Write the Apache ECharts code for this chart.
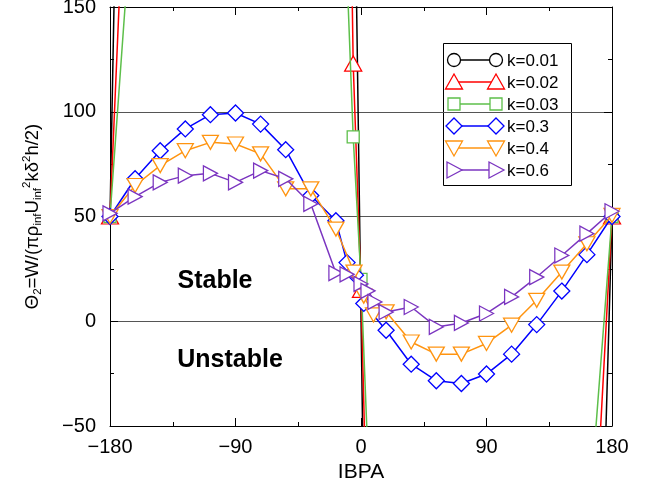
<!DOCTYPE html>
<html><head><meta charset="utf-8">
<script src="https://cdn.jsdelivr.net/npm/echarts@6/dist/echarts.min.js"></script>
<style>html,body{margin:0;padding:0;background:#fff}#c{width:652px;height:488px}</style>
</head><body><div id="c"></div>
<script>
// ---- data ----
const seriesNames = ['k=0.01','k=0.02','k=0.03','k=0.3','k=0.4','k=0.6'];
const xTickLabels = [-180,-90,0,90,180];
const yTickLabels = [-50,0,50,100,150];

const ibpaSmallK = [-180,-162,-144,-126,-108,-90,-72,-54,-36,-18,-12,-5.6,0,6,12,18,36,54,72,90,108,126,144,162,180];
const k001 = [50,680,1250,1700,2000,2100,2050,1850,1450,900,500,266,null,-280,-600,-900,-1500,-1950,-2150,-2100,-1900,-1500,-1000,-369,50];
const k002 = [50,329,600,850,1000,1050,1000,900,700,520,400,123,15,-147,-290,-420,-700,-950,-1080,-1050,-950,-750,-500,-172,50];
const k003 = [50,217,400,560,670,700,670,600,470,330,200,88,20,-82,-180,-280,-470,-630,-720,-700,-630,-500,-330,-107,50];

const ibpaK03 = [-180,-162,-144,-126,-108,-90,-72,-54,-36,-18,-10,-4,2,18,36,54,72,90,108,126,144,162,180];
const k03 = [50,68,81.4,91.8,98.6,99.4,94.1,81.9,60,48,28,22,8.5,-4.3,-20.5,-28.4,-29.7,-25.2,-15.7,-1.6,14.4,31.8,50];

const ibpaK04 = [-180,-162,-144,-126,-108,-90,-72,-54,-36,-18,-5,2,9,18,36,54,72,90,108,126,144,162,180];
const k04 = [50,64.8,74.3,81.4,85.4,84.6,79.9,63.2,63.2,44,23.5,12,3,4.5,-9.9,-15.7,-15.7,-10.6,-1.9,10,23.5,37,50.5];

const ibpaK06 = [-180,-162,-144,-126,-108,-90,-72,-54,-36,-18,-10,0,5,10,18,36,54,72,90,108,126,144,162,180];
const k06 = [51.5,59.5,66.3,69.5,70.6,66.3,71.9,68,56,23,22.4,17.8,14.5,9.2,4.4,6.8,-2.7,-0.8,3.7,11.6,21.1,31.4,41.8,52.5];

// ---- styling ----
const FONT = 'Liberation Sans, Arial, Helvetica, sans-serif';
const colors = ['#000000','#ff0000','#5dbf4a','#0000ff','#ff9410','#7b35c0'];
const symbols = ['circle','triangle','rect','diamond','triangle','triangle'];
const symSizes = [13,[17,15],12,16,[16,14],[15,14]];
const symRot = [0,0,0,0,180,-90];
const legendKinds = ['circle','up','square','diamond','down','right'];

const xs = [ibpaSmallK,ibpaSmallK,ibpaSmallK,ibpaK03,ibpaK04,ibpaK06];
const ys = [k001,k002,k003,k03,k04,k06];

const series = seriesNames.map((name,i)=>({
  name, type:'line',
  data: xs[i].map((x,j)=>[x, ys[i][j]]),
  symbol: symbols[i], symbolSize: symSizes[i], symbolRotate: symRot[i],
  showAllSymbol: true, connectNulls: true, clip: true,
  lineStyle:{color:colors[i], width:1.5},
  itemStyle:{color:'#fff', borderColor:colors[i], borderWidth:1.3},
  emphasis:{disabled:true},
  z: 2 + i
}));

function legendMarker(kind, cx, cy, color){
  const st = {fill:'#fff', stroke:color, lineWidth:1.3};
  if (kind==='circle') return {type:'circle', shape:{cx,cy,r:6.5}, style:st};
  if (kind==='square') return {type:'rect', shape:{x:cx-6,y:cy-6,width:12,height:12}, style:st};
  if (kind==='diamond') return {type:'polygon', shape:{points:[[cx,cy-8],[cx+8,cy],[cx,cy+8],[cx-8,cy]]}, style:st};
  if (kind==='up') return {type:'polygon', shape:{points:[[cx-8.5,cy+7],[cx+8.5,cy+7],[cx,cy-8]]}, style:st};
  if (kind==='down') return {type:'polygon', shape:{points:[[cx-8.5,cy-7],[cx+8.5,cy-7],[cx,cy+8]]}, style:st};
  return {type:'polygon', shape:{points:[[cx-7,cy-8],[cx-7,cy+8],[cx+8,cy]]}, style:st};
}

const legendEls = [{type:'rect', shape:{x:443.5,y:43.5,width:128,height:142}, style:{fill:'#fff', stroke:'#000', lineWidth:1}}];
seriesNames.forEach((n,i)=>{
  const y = 60 + i*22;
  legendEls.push({type:'line', shape:{x1:454,y1:y,x2:496,y2:y}, style:{stroke:colors[i], lineWidth:1.3}});
  legendEls.push(legendMarker(legendKinds[i],454,y,colors[i]));
  legendEls.push(legendMarker(legendKinds[i],496,y,colors[i]));
  legendEls.push({type:'text', style:{x:507,y:y+1,text:n,fill:'#000',font:'17px '+FONT,textAlign:'left',textVerticalAlign:'middle'}});
});

const minus = v => String(v).replace('-','\u2212');
const axisCommon = {
  type:'value',
  axisLine:{show:true, onZero:false, lineStyle:{color:'#000', width:1}},
  axisTick:{show:true, inside:true, length:8, lineStyle:{color:'#000', width:1}},
  minorTick:{show:true, splitNumber:2, length:4, lineStyle:{color:'#000', width:1}},
  splitLine:{show:false}
};

const chart = echarts.init(document.getElementById('c'), null, {renderer:'canvas'});
chart.setOption({
  animation:false,
  backgroundColor:'#fff',
  textStyle:{fontFamily:FONT},
  grid:{left:110, right:40, top:7, bottom:62, containLabel:false, outerBoundsMode:'none'},
  xAxis:[
    Object.assign({}, axisCommon, {min:-180, max:180, interval:90, position:'bottom',
      axisLabel:{formatter:minus, fontSize:20, color:'#000', margin:11, fontFamily:FONT},
      name:'IBPA', nameLocation:'middle', nameGap:32, nameTextStyle:{fontSize:21, color:'#000', fontFamily:FONT}}),
    Object.assign({}, axisCommon, {min:-180, max:180, interval:90, position:'top', axisLabel:{show:false}})
  ],
  yAxis:[
    Object.assign({}, axisCommon, {min:-50, max:150, interval:50, position:'left',
      axisLabel:{formatter:minus, fontSize:20, color:'#000', margin:14, fontFamily:FONT},
      splitLine:{show:true, lineStyle:{color:'#555', width:1}},
      name:'{t|\u0398}{s|2}{t|=W/(\u03c0\u03c1}{s|inf}{t|U}{s|inf}{p|2}{t|k\u03b4}{p|2}{t|h/2)}',
      nameLocation:'middle', nameGap:66, nameRotate:90,
      nameTextStyle:{color:'#000', fontFamily:FONT, rich:{
        t:{fontSize:18.5, lineHeight:23, color:'#000', fontFamily:FONT},
        s:{fontSize:11.5, lineHeight:11, verticalAlign:'bottom', color:'#000', fontFamily:FONT},
        p:{fontSize:11.5, lineHeight:11, verticalAlign:'top', color:'#000', fontFamily:FONT}
      }}}),
    Object.assign({}, axisCommon, {min:-50, max:150, interval:50, position:'right', axisLabel:{show:false}})
  ],
  series,
  graphic:[
    {type:'group', z:100, children:legendEls},
    {type:'text', z:50, style:{x:215, y:281, text:'Stable', font:'bold 25px '+FONT, fill:'#000', textAlign:'center', textVerticalAlign:'middle'}},
    {type:'text', z:50, style:{x:230, y:360, text:'Unstable', font:'bold 25px '+FONT, fill:'#000', textAlign:'center', textVerticalAlign:'middle'}}
  ]
});
</script>
</body></html>
